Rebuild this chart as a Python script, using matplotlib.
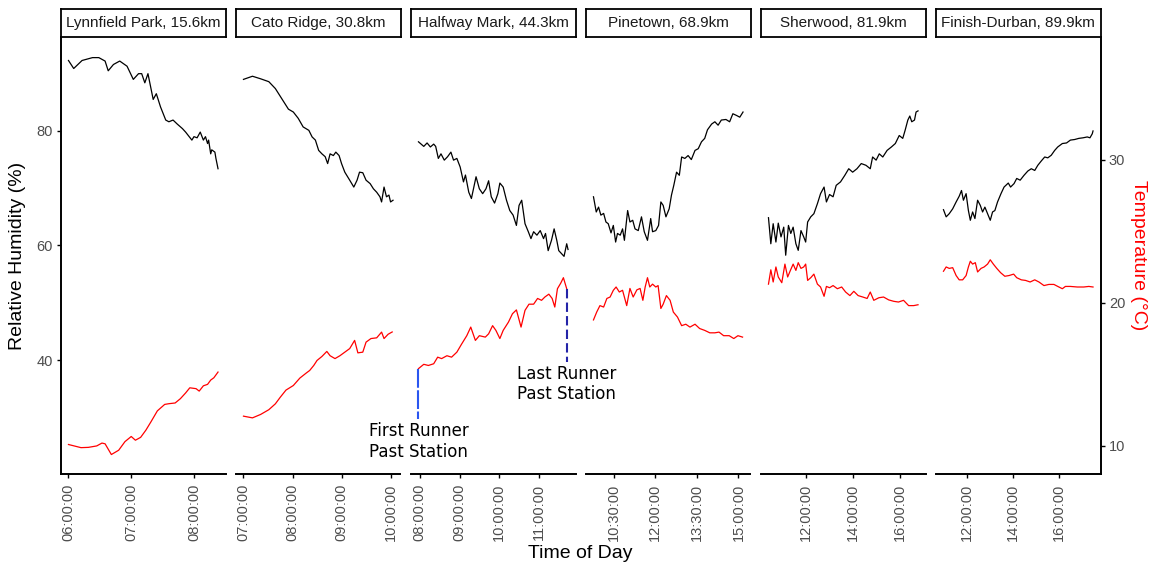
import matplotlib
matplotlib.use("Agg")
import matplotlib.pyplot as plt
import matplotlib.dates as mdates
import pandas as pd

plt.rcParams['font.family'] = ['Liberation Sans', 'DejaVu Sans']

# ---- data ----
stations = ["Lynnfield Park, 15.6km", "Cato Ridge, 30.8km", "Halfway Mark, 44.3km",
            "Pinetown, 68.9km", "Sherwood, 81.9km", "Finish-Durban, 89.9km"]

# Lynnfield Park
p1_rh_time = ["06:00", "06:05", "06:13", "06:23", "06:29", "06:35", "06:38", "06:43", "06:49", "06:56",
              "07:02", "07:07", "07:10", "07:13", "07:16", "07:21", "07:24", "07:28", "07:33", "07:36",
              "07:40", "07:44", "07:49", "07:52", "07:55", "07:58", "08:00", "08:03", "08:06", "08:09",
              "08:11", "08:13", "08:14", "08:16", "08:17", "08:20", "08:21", "08:23"]
p1_rh = [92.3, 90.9, 92.3, 92.8, 92.8, 92.2, 90.5, 91.6, 92.2, 91.3,
         89.0, 90.0, 90.0, 88.4, 90.0, 85.5, 86.5, 84.2, 81.9, 81.6,
         81.9, 81.2, 80.4, 79.8, 79.1, 78.4, 79.0, 78.8, 79.8, 78.4,
         79.0, 77.8, 78.4, 76.0, 76.7, 76.3, 75.2, 73.4]
p1_temp_time = ["06:00", "06:12", "06:19", "06:27", "06:32", "06:35", "06:41", "06:48", "06:54", "07:00",
                "07:04", "07:09", "07:14", "07:19", "07:25", "07:32", "07:36", "07:42", "07:47", "07:52",
                "07:56", "08:02", "08:05", "08:09", "08:13", "08:16", "08:19", "08:23"]
p1_temp = [10.1, 9.88, 9.9, 10.0, 10.2, 10.15, 9.4, 9.7, 10.3, 10.66,
           10.4, 10.6, 11.1, 11.7, 12.45, 12.9, 12.95, 13.0, 13.3, 13.7,
           14.06, 14.0, 13.83, 14.2, 14.3, 14.6, 14.76, 15.16]

# Cato Ridge
p2_rh_time = ["07:00", "07:11", "07:21", "07:31", "07:39", "07:47", "07:55", "08:01", "08:07", "08:13",
              "08:20", "08:24", "08:28", "08:32", "08:36", "08:40", "08:43", "08:46", "08:50", "08:53",
              "08:57", "09:00", "09:04", "09:10", "09:15", "09:19", "09:22", "09:26", "09:30", "09:35",
              "09:39", "09:43", "09:47", "09:49", "09:52", "09:55", "09:58", "10:00", "10:03"]
p2_rh = [89.0, 89.55, 89.1, 88.6, 87.4, 85.6, 83.8, 83.3, 82.2, 80.7,
         80.1, 78.95, 78.4, 76.6, 76.0, 75.5, 74.3, 76.0, 75.7, 76.3,
         75.7, 74.3, 72.8, 71.4, 70.2, 71.4, 72.8, 72.7, 71.4, 70.8,
         69.9, 69.3, 68.5, 67.6, 70.2, 68.5, 68.8, 67.6, 67.9]
p2_temp_time = ["07:00", "07:11", "07:21", "07:31", "07:39", "07:45", "07:52", "08:01", "08:09", "08:17",
                "08:21", "08:26", "08:30", "08:36", "08:42", "08:46", "08:52", "08:58", "09:04", "09:10",
                "09:16", "09:20", "09:26", "09:30", "09:36", "09:43", "09:49", "09:52", "09:57", "10:02"]
p2_temp = [12.08, 11.96, 12.2, 12.53, 12.94, 13.4, 13.9, 14.22, 14.74, 15.1,
           15.27, 15.62, 15.97, 16.25, 16.6, 16.3, 16.1, 16.3, 16.55, 16.8,
           17.37, 16.5, 16.55, 17.25, 17.5, 17.55, 17.95, 17.5, 17.8, 17.96]

# Halfway Mark
p3_rh_time = ["07:58", "08:06", "08:11", "08:16", "08:21", "08:24", "08:28", "08:32", "08:37", "08:42",
              "08:47", "08:51", "08:56", "09:01", "09:06", "09:09", "09:14", "09:18", "09:25", "09:30",
              "09:35", "09:40", "09:44", "09:48", "09:53", "09:58", "10:01", "10:06", "10:11", "10:16",
              "10:21", "10:26", "10:30", "10:34", "10:39", "10:44", "10:48", "10:52", "10:57", "11:02",
              "11:07", "11:10", "11:14", "11:19", "11:23", "11:27", "11:30", "11:34", "11:38", "11:42", "11:44"]
p3_rh = [78.1, 77.3, 77.9, 77.2, 77.7, 77.3, 75.2, 76.0, 74.9, 75.5,
         76.3, 74.9, 75.2, 73.7, 71.1, 72.3, 69.3, 68.2, 72.0, 69.9,
         69.05, 69.9, 71.3, 68.5, 67.4, 69.05, 70.9, 70.2, 67.9, 66.1,
         65.3, 63.5, 67.0, 67.9, 63.8, 62.4, 61.2, 62.4, 61.8, 62.6,
         61.2, 62.1, 59.1, 60.9, 62.9, 60.9, 59.1, 58.6, 58.1, 60.3, 59.3]
p3_temp_time = ["07:58", "08:06", "08:13", "08:21", "08:27", "08:33", "08:41", "08:48", "08:56", "09:03",
                "09:11", "09:17", "09:24", "09:30", "09:39", "09:44", "09:50", "09:55", "10:01", "10:06",
                "10:14", "10:20", "10:26", "10:33", "10:39", "10:45", "10:52", "10:58", "11:04", "11:09",
                "11:15", "11:20", "11:24", "11:28", "11:33", "11:37", "11:42"]
p3_temp = [15.4, 15.7, 15.62, 15.74, 16.2, 16.1, 16.3, 16.2, 16.55, 17.1,
           17.7, 18.3, 17.37, 17.7, 17.6, 17.83, 18.4, 18.07, 17.5, 18.07,
           18.65, 19.23, 19.5, 18.3, 19.47, 19.9, 19.9, 20.3, 20.17, 20.4,
           20.6, 20.3, 19.7, 20.98, 21.37, 21.75, 20.98]

# Pinetown
p4_rh_time = ["09:46", "09:52", "09:57", "10:02", "10:08", "10:13", "10:18", "10:24", "10:29", "10:34",
              "10:38", "10:44", "10:49", "10:53", "11:00", "11:05", "11:11", "11:16", "11:23", "11:30",
              "11:36", "11:43", "11:50", "11:54", "12:01", "12:07", "12:12", "12:17", "12:23", "12:30",
              "12:35", "12:40", "12:46", "12:52", "12:57", "13:04", "13:11", "13:18", "13:26", "13:33",
              "13:40", "13:47", "13:53", "14:02", "14:09", "14:16", "14:23", "14:33", "14:41", "14:48",
              "14:56", "15:03", "15:10"]
p4_rh = [68.5, 65.85, 66.7, 65.3, 65.6, 64.1, 63.8, 62.2, 63.5, 60.6,
         62.1, 61.8, 62.9, 60.9, 66.1, 64.1, 64.4, 62.9, 62.6, 65.0,
         62.4, 60.9, 64.7, 62.4, 62.6, 63.5, 67.6, 67.0, 65.0, 66.4,
         68.8, 70.5, 72.8, 72.25, 75.45, 75.2, 75.7, 75.0, 76.6, 76.9,
         78.1, 78.7, 80.2, 81.2, 81.6, 81.0, 81.9, 82.0, 81.6, 83.0,
         82.7, 82.4, 83.3]
p4_temp_time = ["09:46", "09:53", "10:00", "10:08", "10:15", "10:22", "10:29", "10:35", "10:42", "10:49",
                "10:58", "11:05", "11:12", "11:20", "11:27", "11:33", "11:38", "11:43", "11:48", "11:54",
                "12:01", "12:06", "12:12", "12:17", "12:24", "12:32", "12:39", "12:48", "12:57", "13:06",
                "13:15", "13:26", "13:36", "13:47", "13:58", "14:09", "14:18", "14:28", "14:40", "14:50",
                "14:59", "15:09"]
p4_temp = [18.8, 19.35, 19.8, 19.7, 20.3, 20.4, 20.87, 21.1, 20.75, 20.87,
           19.8, 21.0, 20.4, 20.9, 21.0, 20.17, 21.1, 21.75, 21.1, 21.3,
           21.1, 21.2, 19.6, 19.9, 20.5, 20.17, 19.35, 19.0, 18.4, 18.5,
           18.3, 18.5, 18.2, 18.07, 17.9, 17.9, 17.95, 17.7, 17.7, 17.5,
           17.7, 17.6]

# Sherwood
p5_rh_time = ["10:25", "10:31", "10:37", "10:44", "10:50", "10:57", "11:04", "11:09", "11:16", "11:22",
              "11:28", "11:35", "11:41", "11:48", "11:55", "12:00", "12:05", "12:13", "12:21", "12:30",
              "12:38", "12:47", "12:53", "13:01", "13:10", "13:18", "13:29", "13:40", "13:50", "14:00",
              "14:11", "14:22", "14:34", "14:45", "14:51", "15:00", "15:08", "15:17", "15:28", "15:39",
              "15:49", "15:59", "16:08", "16:14", "16:21", "16:26", "16:31", "16:38", "16:42", "16:47"]
p5_rh = [64.85, 60.3, 63.8, 60.6, 63.9, 61.5, 63.2, 58.3, 63.5, 62.1,
         63.2, 60.3, 59.15, 62.6, 61.5, 60.6, 64.1, 65.0, 65.55, 67.3,
         69.05, 70.2, 67.6, 68.9, 68.5, 70.5, 71.1, 72.25, 73.4, 72.8,
         73.4, 74.3, 74.0, 73.4, 75.45, 74.9, 76.0, 75.45, 76.6, 77.2,
         77.8, 79.2, 78.7, 80.1, 81.9, 82.6, 81.6, 81.9, 83.3, 83.5]
p5_temp_time = ["10:25", "10:31", "10:37", "10:44", "10:50", "10:59", "11:07", "11:14", "11:21", "11:28",
                "11:35", "11:41", "11:48", "11:55", "12:00", "12:05", "12:13", "12:21", "12:30", "12:38",
                "12:47", "12:53", "13:01", "13:10", "13:21", "13:32", "13:42", "13:53", "14:03", "14:14",
                "14:26", "14:37", "14:45", "14:54", "15:07", "15:19", "15:32", "15:45", "15:57", "16:10",
                "16:23", "16:36", "16:47"]
p5_temp = [21.3, 22.3, 21.45, 22.5, 21.8, 21.4, 22.7, 21.8, 22.26, 22.7,
           22.26, 22.8, 22.4, 22.5, 22.7, 21.56, 21.75, 22.0, 21.3, 21.1,
           20.45, 21.14, 21.05, 21.2, 20.98, 21.1, 20.75, 20.5, 20.8, 20.5,
           20.4, 20.3, 20.75, 20.17, 20.35, 20.4, 20.2, 20.1, 20.05, 20.17,
           19.8, 19.8, 19.86]

# Finish-Durban
p6_rh_time = ["10:58", "11:05", "11:13", "11:22", "11:31", "11:39", "11:45", "11:50", "11:57", "12:03",
              "12:08", "12:14", "12:20", "12:27", "12:34", "12:40", "12:46", "12:53", "13:00", "13:06",
              "13:12", "13:19", "13:28", "13:36", "13:47", "13:53", "14:02", "14:09", "14:18", "14:28",
              "14:38", "14:47", "14:56", "15:04", "15:13", "15:22", "15:30", "15:39", "15:48", "15:56",
              "16:08", "16:19", "16:29", "16:40", "16:51", "17:02", "17:13", "17:20", "17:26", "17:28"]
p6_rh = [66.25, 65.0, 65.55, 66.4, 67.6, 68.6, 69.6, 67.9, 69.05, 66.1,
         64.4, 65.85, 64.7, 67.9, 67.0, 65.85, 66.7, 65.55, 64.4, 65.85,
         66.1, 67.6, 69.05, 70.2, 70.9, 70.2, 70.8, 71.7, 71.4, 72.25,
         73.0, 73.4, 73.1, 74.0, 74.75, 75.45, 75.3, 75.75, 76.6, 77.2,
         77.8, 77.9, 78.4, 78.5, 78.7, 78.8, 78.95, 78.8, 79.5, 80.0]
p6_temp_time = ["10:58", "11:05", "11:13", "11:22", "11:31", "11:39", "11:48", "11:57", "12:03", "12:08",
                "12:14", "12:21", "12:27", "12:36", "12:44", "12:53", "13:00", "13:08", "13:17", "13:27",
                "13:38", "13:49", "14:01", "14:09", "14:21", "14:32", "14:44", "14:56", "15:07", "15:20",
                "15:33", "15:46", "15:59", "16:08", "16:16", "16:29", "16:47", "17:04", "17:17", "17:28"]
p6_temp = [22.2, 22.5, 22.4, 22.45, 21.9, 21.6, 21.6, 21.9, 22.5, 22.9,
           22.7, 22.8, 22.15, 22.4, 22.5, 22.7, 23.0, 22.7, 22.4, 22.1,
           21.85, 21.9, 22.0, 21.75, 21.6, 21.56, 21.45, 21.6, 21.45, 21.2,
           21.28, 21.28, 21.1, 20.98, 21.14, 21.14, 21.1, 21.1, 21.14, 21.1]

tick_times = [["06:00", "07:00", "08:00"],
              ["07:00", "08:00", "09:00", "10:00"],
              ["08:00", "09:00", "10:00", "11:00"],
              ["10:30", "12:00", "13:30", "15:00"],
              ["12:00", "14:00", "16:00"],
              ["12:00", "14:00", "16:00"]]

# runner markers at the Halfway Mark
runner_times = ["07:58", "11:42"]
runner_top_c = [15.4, 20.98]
runner_bottom_rh = [29.7, 39.6]
runner_text = ["First Runner\nPast Station", "Last Runner\nPast Station"]
runner_text_rh = [25.8, 35.8]

TEMP_SCALE = 2.5  # relative humidity units per degree C on the shared axis

rh_times = [p1_rh_time, p2_rh_time, p3_rh_time, p4_rh_time, p5_rh_time, p6_rh_time]
rh_vals = [p1_rh, p2_rh, p3_rh, p4_rh, p5_rh, p6_rh]
temp_times = [p1_temp_time, p2_temp_time, p3_temp_time, p4_temp_time, p5_temp_time, p6_temp_time]
temp_vals = [p1_temp, p2_temp, p3_temp, p4_temp, p5_temp, p6_temp]


def to_time(t):
    return pd.to_datetime(t, format="%H:%M")


W, H = 1149, 566
fig = plt.figure(figsize=(W / 100, H / 100), dpi=100)

left_px, right_px, gap_px = 61, 1100.5, 10.5
panel_w = (right_px - left_px - 5 * gap_px) / 6
bottom_px, top_px, strip_top_px = 474, 37, 9
tick_grey = '#4D4D4D'

axes = []
for i in range(6):
    x0 = left_px + i * (panel_w + gap_px)
    ax = fig.add_axes([x0 / W, 1 - bottom_px / H, panel_w / W, (bottom_px - top_px) / H])
    ax.set_facecolor('none')

    rt = to_time(rh_times[i])
    tt = to_time(temp_times[i])
    ax.plot(rt, rh_vals[i], color='black', lw=0.9)
    ax.plot(tt, [v * TEMP_SCALE for v in temp_vals[i]], color='red', lw=0.9)

    # ggplot-like 5% expansion of each free x scale
    lo = min(rt.min(), tt.min())
    hi = max(rt.max(), tt.max())
    span = hi - lo
    ax.set_xlim(lo - 0.05 * span, hi + 0.05 * span)
    ax.set_ylim(20.1, 96.4)

    ax.set_xticks(to_time(tick_times[i]))
    ax.xaxis.set_major_formatter(mdates.DateFormatter('%H:%M:%S'))
    for lab in ax.get_xticklabels():
        lab.set_rotation(90)

    for s in ['top', 'right']:
        ax.spines[s].set_visible(False)
    ax.spines['bottom'].set_linewidth(1.4)
    ax.spines['left'].set_linewidth(1.4)
    ax.tick_params(axis='x', direction='out', length=3, width=1, colors='black',
                   labelcolor=tick_grey, labelsize=10.5, pad=4)
    if i == 0:
        ax.set_yticks([40, 60, 80])
        ax.tick_params(axis='y', direction='out', length=3, width=1, colors='black',
                       labelcolor=tick_grey, labelsize=10.5, pad=3)
    else:
        ax.spines['left'].set_visible(False)
        ax.tick_params(axis='y', left=False, labelleft=False)

    if i == 5:
        sec = ax.secondary_yaxis('right', functions=(lambda y: y / TEMP_SCALE,
                                                     lambda t: t * TEMP_SCALE))
        sec.set_yticks([10, 20, 30])
        sec.spines['right'].set_linewidth(1.4)
        sec.tick_params(direction='out', length=3, width=1, colors='black',
                        labelcolor=tick_grey, labelsize=10.5, pad=3)

    # facet strip
    sax = fig.add_axes([x0 / W, 1 - top_px / H, panel_w / W, (top_px - strip_top_px) / H])
    sax.set_xticks([])
    sax.set_yticks([])
    for s in sax.spines.values():
        s.set_linewidth(1.3)
        s.set_color('black')
    sax.text(0.5, 0.5, stations[i], ha='center', va='center', fontsize=11,
             color='#1A1A1A', transform=sax.transAxes)
    axes.append(ax)

# runner annotations on the Halfway Mark panel
ax3 = axes[2]
line_colors = ['#2a56f0', '#2424a8']
line_dashes = [(9, 1.2), (4.5, 2)]
for k in range(2):
    t = mdates.date2num(to_time(runner_times[k]))
    ax3.plot([t, t], [runner_top_c[k] * TEMP_SCALE, runner_bottom_rh[k]],
             color=line_colors[k], lw=1.5, dashes=line_dashes[k])
    ax3.text(t, runner_text_rh[k], runner_text[k], ha='center', va='center',
             fontsize=12, family='DejaVu Sans', color='black', clip_on=False,
             multialignment='left', zorder=5)

mid_y = 1 - (bottom_px + top_px) / 2 / H
fig.text(18 / W, mid_y, "Relative Humidity (%)", rotation=90, ha='center', va='center',
         fontsize=14, color='black')
fig.text(1138 / W, mid_y, "Temperature (°C)", rotation=270, ha='center', va='center',
         fontsize=14, color='red')
fig.text((left_px + right_px) / 2 / W, 1 - 553 / H, "Time of Day", ha='center', va='center',
         fontsize=14, color='black')

fig.savefig("out.png", dpi=100)
